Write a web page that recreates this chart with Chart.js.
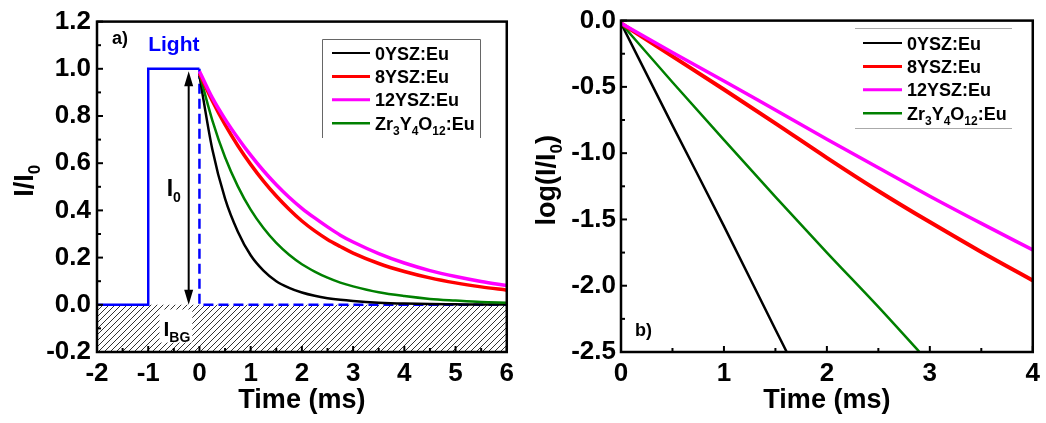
<!DOCTYPE html>
<html>
<head>
<meta charset="utf-8">
<script src="https://cdn.jsdelivr.net/npm/chart.js@4.4.1/dist/chart.umd.min.js"></script>
<style>
  html, body { margin: 0; padding: 0; background: #fff; }
  #wrap { position: relative; width: 1046px; height: 423px; }
  canvas { position: absolute; top: 0; }
  #decayChart { left: 0; }
  #logChart { left: 520px; }
</style>
</head>
<body>
<div id="wrap">
  <canvas id="decayChart" width="520" height="423"></canvas>
  <canvas id="logChart" width="526" height="423"></canvas>
</div>
<script>
// samples and colours
const samples = ['0YSZ:Eu', '8YSZ:Eu', '12YSZ:Eu', 'Zr3Y4O12:Eu'];
const sampleColors = ['#000000', '#ff0000', '#ff00ff', '#008000'];

// a) normalised decay I/I0 vs time (ms)
const decayTime  = [0, 0.25, 0.5, 0.75, 1, 1.25, 1.5, 1.75, 2, 2.25, 2.5, 2.75, 3, 3.5, 4, 4.5, 5, 5.5, 6];
const decay0YSZ  = [0.97, 0.66, 0.45, 0.31, 0.21, 0.145, 0.10, 0.072, 0.052, 0.038, 0.028, 0.021, 0.016, 0.009, 0.005, 0.003, 0.002, 0.001, 0.001];
const decay8YSZ  = [0.98, 0.865, 0.763, 0.674, 0.595, 0.524, 0.461, 0.405, 0.355, 0.313, 0.277, 0.247, 0.219, 0.175, 0.141, 0.114, 0.093, 0.076, 0.062];
const decay12YSZ = [0.99, 0.878, 0.787, 0.707, 0.634, 0.568, 0.509, 0.456, 0.409, 0.368, 0.330, 0.295, 0.266, 0.217, 0.177, 0.145, 0.120, 0.099, 0.082];
const decayZr    = [0.98, 0.783, 0.625, 0.502, 0.403, 0.325, 0.262, 0.212, 0.172, 0.141, 0.115, 0.094, 0.078, 0.053, 0.037, 0.025, 0.018, 0.012, 0.009];

// excitation pulse (light on from -1 to 0 ms) and the off part
const lightTime  = [-2, -1, -1, 0];
const lightLevel = [0, 0, 1, 1];
const offTime    = [0, 0, 6];
const offLevel   = [1, 0, 0];
// background band under zero
const bgTime  = [-2, 6];
const bgLevel = [0, 0];

// b) log(I/I0) vs time (ms)
const logTime0YSZ = [0, 0.5, 1, 1.5, 1.61];
const log0YSZ     = [-0.02, -0.79, -1.55, -2.33, -2.5];
const logTimeZr   = [0, 0.5, 1, 1.5, 2, 2.5, 2.9];
const logZr       = [-0.02, -0.465, -0.90, -1.33, -1.75, -2.16, -2.5];
const logTime     = [0, 0.5, 1, 1.5, 2, 2.5, 3, 3.5, 4];
const log8YSZ     = [-0.02, -0.27, -0.52, -0.775, -1.035, -1.285, -1.52, -1.745, -1.96];
const log12YSZ    = [-0.02, -0.24, -0.455, -0.675, -0.895, -1.11, -1.325, -1.53, -1.73];

const FONT = "'Liberation Sans', Arial, sans-serif";
const pts = (xs, ys) => xs.map((x, i) => ({ x: x, y: ys[i] }));

// split "Zr3Y4O12:Eu" into normal / subscript runs (digits right after a letter)
function richParts(str) {
  const parts = [];
  let last = 0;
  str.replace(/([A-Za-z])(\d+)/g, (m, letter, digits, pos) => {
    parts.push({ text: str.slice(last, pos + 1), sub: false });
    parts.push({ text: digits, sub: true });
    last = pos + m.length;
    return m;
  });
  if (last < str.length) parts.push({ text: str.slice(last), sub: false });
  return parts;
}

function drawRich(ctx, parts, x, y, size, subSize, drop, align) {
  ctx.textBaseline = 'alphabetic';
  ctx.textAlign = 'left';
  let w = 0;
  parts.forEach(p => {
    ctx.font = 'bold ' + (p.sub ? subSize : size) + 'px ' + FONT;
    p.w = ctx.measureText(p.text).width;
    w += p.w;
  });
  let cx = align === 'center' ? x - w / 2 : x;
  parts.forEach(p => {
    ctx.font = 'bold ' + (p.sub ? subSize : size) + 'px ' + FONT;
    ctx.fillText(p.text, cx, p.sub ? y + drop : y);
    cx += p.w;
  });
}

function hLine(ctx, x1, x2, y) { ctx.beginPath(); ctx.moveTo(x1, y); ctx.lineTo(x2, y); ctx.stroke(); }
function vLine(ctx, x, y1, y2) { ctx.beginPath(); ctx.moveTo(x, y1); ctx.lineTo(x, y2); ctx.stroke(); }

// thick box around the plot with inward major and minor ticks on left and bottom
function drawFrame(chart) {
  const { ctx, chartArea: a, scales: { x, y } } = chart;
  ctx.save();
  ctx.strokeStyle = '#000';
  ctx.lineWidth = 2;
  const xs = x.ticks.map(t => t.value);
  const ys = y.ticks.map(t => t.value);
  xs.forEach((v, i) => {
    const px = x.getPixelForValue(v);
    vLine(ctx, px, a.bottom, a.bottom - 6);
    if (i < xs.length - 1) {
      const mx = x.getPixelForValue((v + xs[i + 1]) / 2);
      vLine(ctx, mx, a.bottom, a.bottom - 4);
    }
  });
  ys.forEach((v, i) => {
    const py = y.getPixelForValue(v);
    hLine(ctx, a.left, a.left + 6, py);
    if (i < ys.length - 1) {
      const my = y.getPixelForValue((v + ys[i + 1]) / 2);
      hLine(ctx, a.left, a.left + 4, my);
    }
  });
  ctx.lineWidth = 2.5;
  ctx.strokeRect(a.left, a.top, a.right - a.left, a.bottom - a.top);
  ctx.restore();
}

function drawLegend(ctx, x0, y0, rowH, lineLen, widths) {
  samples.forEach((name, i) => {
    const yy = y0 + i * rowH;
    ctx.strokeStyle = sampleColors[i];
    ctx.lineWidth = widths[i];
    hLine(ctx, x0, x0 + lineLen, yy);
    ctx.fillStyle = '#000';
    drawRich(ctx, richParts(name), x0 + lineLen + 5, yy + 6.5, 18, 12, 5, 'left');
  });
}

function drawTitles(chart, yTitle, yCenterX) {
  const { ctx, chartArea: a } = chart;
  ctx.save();
  ctx.fillStyle = '#000';
  drawRich(ctx, [{ text: 'Time (ms)', sub: false }], (a.left + a.right) / 2, 408, 27, 17, 6, 'center');
  ctx.translate(yCenterX, (a.top + a.bottom) / 2 - 6);
  ctx.rotate(-Math.PI / 2);
  drawRich(ctx, richParts(yTitle), 0, 10, 27, 17, 7, 'center');
  ctx.restore();
}

function axisFont() { return { family: FONT, size: 26, weight: 'bold' }; }

function makeHatch() {
  const c = document.createElement('canvas');
  c.width = 6; c.height = 6;
  const g = c.getContext('2d');
  g.strokeStyle = '#333';
  g.lineWidth = 1;
  g.beginPath();
  g.moveTo(0, 6); g.lineTo(6, 0);
  g.moveTo(-1, 1); g.lineTo(1, -1);
  g.moveTo(5, 7); g.lineTo(7, 5);
  g.stroke();
  return g.createPattern(c, 'repeat');
}

const decayDecor = {
  id: 'decayDecor',
  afterDatasetsDraw(chart) {
    const { ctx, scales: { x, y } } = chart;
    ctx.save();
    // I_BG label on a white patch over the hatching
    const bx1 = x.getPixelForValue(-0.78), bx2 = x.getPixelForValue(-0.14);
    const by1 = y.getPixelForValue(-0.02), by2 = y.getPixelForValue(-0.16);
    ctx.fillStyle = '#fff';
    ctx.fillRect(bx1, by1, bx2 - bx1, by2 - by1);
    ctx.fillStyle = '#000';
    drawRich(ctx, [{ text: 'I', sub: false }, { text: 'BG', sub: true }], bx1 + 4, by1 + 26, 21, 14, 6, 'left');

    // double arrow marking I0
    const ax = x.getPixelForValue(-0.21);
    const top = y.getPixelForValue(0.99), bot = y.getPixelForValue(0);
    ctx.strokeStyle = '#000';
    ctx.lineWidth = 2;
    vLine(ctx, ax, top + 10, bot - 10);
    ctx.beginPath();
    ctx.moveTo(ax, top); ctx.lineTo(ax - 4.5, top + 15); ctx.lineTo(ax + 4.5, top + 15); ctx.closePath();
    ctx.moveTo(ax, bot); ctx.lineTo(ax - 4.5, bot - 15); ctx.lineTo(ax + 4.5, bot - 15); ctx.closePath();
    ctx.fillStyle = '#000';
    ctx.fill();
    drawRich(ctx, [{ text: 'I', sub: false }, { text: '0', sub: true }], ax - 22, y.getPixelForValue(0.46), 23, 14, 6, 'left');

    // panel tag and pulse label
    drawRich(ctx, [{ text: 'a)', sub: false }], 112, 44, 18, 12, 5, 'left');
    ctx.fillStyle = '#0000ff';
    drawRich(ctx, [{ text: 'Light', sub: false }], x.getPixelForValue(-0.5), 51, 21, 14, 5, 'center');

    // legend box (left, top and right edges)
    ctx.strokeStyle = '#666';
    ctx.lineWidth = 1;
    ctx.beginPath();
    ctx.moveTo(322.5, 138); ctx.lineTo(322.5, 39.5); ctx.lineTo(480.5, 39.5); ctx.lineTo(480.5, 138);
    ctx.stroke();
    drawLegend(ctx, 332, 53, 23.4, 38, [2, 3, 3, 2.5]);
    ctx.restore();

    drawFrame(chart);
    drawTitles(chart, 'I/I0', 23);
  }
};

const logDecor = {
  id: 'logDecor',
  afterDatasetsDraw(chart) {
    const { ctx } = chart;
    ctx.save();
    ctx.fillStyle = '#000';
    drawRich(ctx, [{ text: 'b)', sub: false }], 115, 336, 18, 12, 5, 'left');
    ctx.strokeStyle = '#aaa';
    ctx.lineWidth = 1;
    hLine(ctx, 335, 492, 28.5);
    hLine(ctx, 335, 492, 128.5);
    drawLegend(ctx, 343, 43, 23.4, 39, [2, 3, 3, 2.5]);
    ctx.restore();

    drawFrame(chart);
    drawTitles(chart, 'log(I/I0)', 25);
  }
};

const hatch = makeHatch();
const curve = (data, color, width, order) => ({
  data: data, borderColor: color, borderWidth: width, pointRadius: 0,
  cubicInterpolationMode: 'monotone', fill: false, order: order
});

new Chart(document.getElementById('decayChart'), {
  type: 'line',
  data: {
    datasets: [
      { data: pts(bgTime, bgLevel), borderWidth: 0, pointRadius: 0, fill: 'start', backgroundColor: hatch, order: 10 },
      { data: pts(lightTime, lightLevel), borderColor: '#0000ff', borderWidth: 2.5, pointRadius: 0, tension: 0, fill: false, order: 9 },
      { data: pts(offTime, offLevel), borderColor: '#0000ff', borderWidth: 2.5, borderDash: [10, 5], pointRadius: 0, tension: 0, fill: false, order: 8 },
      curve(pts(decayTime, decay0YSZ), sampleColors[0], 2.5, 4),
      curve(pts(decayTime, decayZr), sampleColors[3], 2.5, 3),
      curve(pts(decayTime, decay8YSZ), sampleColors[1], 3.5, 2),
      curve(pts(decayTime, decay12YSZ), sampleColors[2], 3.5, 1)
    ]
  },
  options: {
    responsive: false,
    animation: false,
    layout: { padding: { left: 0, right: 12, top: 15, bottom: 0 } },
    plugins: { legend: { display: false }, tooltip: { enabled: false } },
    scales: {
      x: {
        type: 'linear', min: -2, max: 6,
        grid: { display: false, drawTicks: false }, border: { display: false },
        ticks: { stepSize: 1, autoSkip: false, maxRotation: 0, padding: 6, color: '#000', font: axisFont(),
                 callback: v => String(Math.round(v)) },
        afterFit: s => { s.height = 71; }
      },
      y: {
        min: -0.2, max: 1.2,
        grid: { display: false, drawTicks: false }, border: { display: false },
        ticks: { stepSize: 0.2, autoSkip: false, padding: 6, color: '#000', font: axisFont(),
                 callback: v => (Math.abs(v) < 1e-9 ? 0 : v).toFixed(1) },
        afterFit: s => { s.width = 97; }
      }
    }
  },
  plugins: [decayDecor]
});

new Chart(document.getElementById('logChart'), {
  type: 'line',
  data: {
    datasets: [
      curve(pts(logTime0YSZ, log0YSZ), sampleColors[0], 2.5, 4),
      curve(pts(logTimeZr, logZr), sampleColors[3], 2.5, 3),
      curve(pts(logTime, log8YSZ), sampleColors[1], 4, 2),
      curve(pts(logTime, log12YSZ), sampleColors[2], 3.5, 1)
    ]
  },
  options: {
    responsive: false,
    animation: false,
    layout: { padding: { left: 0, right: 10, top: 14, bottom: 0 } },
    plugins: { legend: { display: false }, tooltip: { enabled: false } },
    scales: {
      x: {
        type: 'linear', min: 0, max: 4,
        grid: { display: false, drawTicks: false }, border: { display: false },
        ticks: { stepSize: 1, autoSkip: false, maxRotation: 0, padding: 6, color: '#000', font: axisFont(),
                 callback: v => String(Math.round(v)) },
        afterFit: s => { s.height = 71; }
      },
      y: {
        min: -2.5, max: 0,
        grid: { display: false, drawTicks: false }, border: { display: false },
        ticks: { stepSize: 0.5, autoSkip: false, padding: 5, color: '#000', font: axisFont(),
                 callback: v => (Math.abs(v) < 1e-9 ? 0 : v).toFixed(1) },
        afterFit: s => { s.width = 101; }
      }
    }
  },
  plugins: [logDecor]
});
</script>
</body>
</html>
